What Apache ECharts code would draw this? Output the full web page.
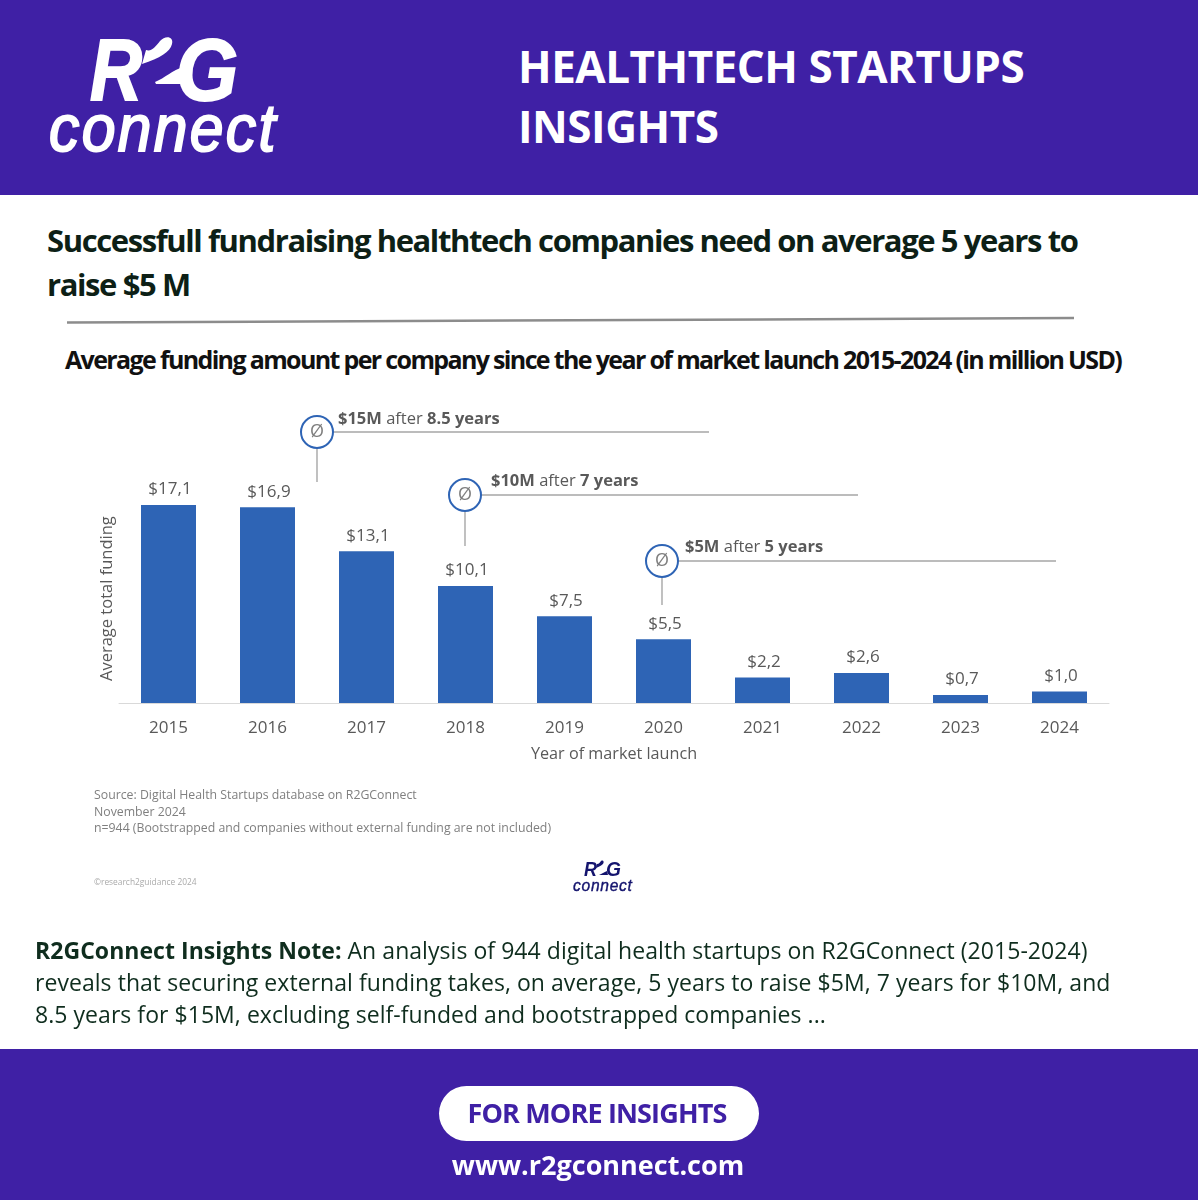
<!DOCTYPE html>
<html>
<head>
<meta charset="utf-8">
<script src="https://cdn.jsdelivr.net/npm/echarts@6/dist/echarts.min.js"></script>
<style>
  html, body { margin: 0; padding: 0; background: #fff; }
  #page { position: relative; width: 1198px; height: 1200px; overflow: hidden; font-family: "Open Sans", sans-serif; }
  #chart { position: absolute; left: 0; top: 0; width: 1198px; height: 1200px; }
  .band { position: absolute; left: 0; width: 1198px; background: #3f20a5; }
  .t { position: absolute; white-space: nowrap; }
  .logo { position: absolute; }
</style>
</head>
<body>
<div id="page">
  <div class="band" style="top:0;height:195px"></div>
  <div class="band" style="top:1049px;height:151px"></div>

  <svg class="logo" style="left:0;top:0" width="320" height="190">
    <text x="90" y="100" font-family="Liberation Sans" font-weight="bold" font-style="italic" font-size="87" fill="#fff" stroke="#fff" stroke-width="2" textLength="52" lengthAdjust="spacingAndGlyphs">R</text>
    <text x="176" y="100" font-family="Liberation Sans" font-weight="bold" font-style="italic" font-size="87" fill="#fff" stroke="#fff" stroke-width="2" textLength="62" lengthAdjust="spacingAndGlyphs">G</text>
    <path d="M146 50 C152 52 156 46 160 41 C165 35 174 36 172 44 C170 52 160 58 142 64Z" fill="#fff"/>
    <path d="M155 82 C165 78 172 70 184 67 L186 84 L156 84Z" fill="#fff"/>
    <g transform="translate(49 0) scale(0.92 1)">
      <text x="0" y="151" font-family="Liberation Sans" font-style="italic" font-size="66" fill="#fff" stroke="#fff" stroke-width="2" textLength="246" lengthAdjust="spacing">connect</text>
    </g>
  </svg>

  <div class="t" style="left:518px;top:36px;font-size:44px;line-height:60px;font-weight:700;color:#fff;letter-spacing:-0.5px">HEALTHTECH STARTUPS<br>INSIGHTS</div>
  <div class="t" style="left:47px;top:218px;font-size:31px;line-height:44px;font-weight:700;color:#0d1f16;letter-spacing:-1.4px">Successfull fundraising healthtech companies need on average 5 years to<br>raise $5 M</div>
  <svg class="logo" style="left:0;top:310px" width="1198" height="20"><line x1="67" y1="12.5" x2="1074" y2="8" stroke="#8c8c8c" stroke-width="2.5"/></svg>
  <div class="t" style="left:65px;top:342px;font-size:25px;line-height:34px;font-weight:700;color:#111;letter-spacing:-1.65px">Average funding amount per company since the year of market launch 2015-2024 (in million USD)</div>

  <div id="chart"></div>

  <div class="t" style="left:94px;top:787px;font-size:12.3px;line-height:16.5px;color:#7f7f7f">Source: Digital Health Startups database on R2GConnect<br>November 2024<br>n=944 (Bootstrapped and companies without external funding are not included)</div>
  <div class="t" style="left:94px;top:876px;font-size:8.4px;line-height:12px;color:#aaaaaa">©research2guidance 2024</div>
  <svg class="logo" style="left:560px;top:850px" width="90" height="50">
    <text x="24" y="26" font-family="Liberation Sans" font-weight="bold" font-style="italic" font-size="21" fill="#14146e" textLength="13" lengthAdjust="spacingAndGlyphs">R</text>
    <text x="46" y="26" font-family="Liberation Sans" font-weight="bold" font-style="italic" font-size="21" fill="#14146e" textLength="15" lengthAdjust="spacingAndGlyphs">G</text>
    <path d="M37 14 C39 14 40 12 41 11 C43 10 44 11 43.5 13 C43 15 40 16 36 18Z" fill="#14146e"/>
    <path d="M39 25 C42 24 44 22 47 21 L48 25 L39 25Z" fill="#14146e"/>
    <g transform="translate(13 0) scale(0.92 1)">
      <text x="0" y="41" font-family="Liberation Sans" font-style="italic" font-size="17" fill="#14146e" stroke="#14146e" stroke-width="0.4" textLength="64" lengthAdjust="spacing">connect</text>
    </g>
  </svg>

  <div class="t" style="left:35px;top:934px;font-size:23px;line-height:32px;color:#0f2d1e;letter-spacing:0.05px"><b>R2GConnect Insights Note:</b> An analysis of 944 digital health startups on R2GConnect (2015-2024)<br>reveals that securing external funding takes, on average, 5 years to raise $5M, 7 years for $10M, and<br>8.5 years for $15M, excluding self-funded and bootstrapped companies ...</div>

  <div style="position:absolute;left:439px;top:1086px;width:320px;height:55px;border-radius:28px;background:#fff"></div>
  <div class="t" style="left:437px;width:320px;top:1094px;text-align:center;font-size:27px;line-height:38px;font-weight:700;color:#3f20a5;letter-spacing:-0.85px">FOR MORE INSIGHTS</div>
  <div class="t" style="left:0;width:1196px;top:1146px;text-align:center;font-size:27px;line-height:38px;font-weight:700;color:#fff">www.r2gconnect.com</div>
</div>

<script>
var years = ['2015', '2016', '2017', '2018', '2019', '2020', '2021', '2022', '2023', '2024'];
var avgFunding = [17.1, 16.9, 13.1, 10.1, 7.5, 5.5, 2.2, 2.6, 0.7, 1.0];
var callouts = [
  { amount: '$15M', after: ' after ', time: '8.5 years', cx: 317, cy: 432, textDx: 21, textDy: -13, endX: 709, stemEnd: 482 },
  { amount: '$10M', after: ' after ', time: '7 years', cx: 465, cy: 495, textDx: 26, textDy: -14, endX: 858, stemEnd: 546 },
  { amount: '$5M', after: ' after ', time: '5 years', cx: 662, cy: 561, textDx: 23, textDy: -14, endX: 1056, stemEnd: 605 }
];

var textGrey = '#595959';
var lineGrey = '#a6a6a6';
var blue = '#2e64b5';

var elements = [];
callouts.forEach(function(c) {
  var r = 16;
  elements.push({ type: 'line', shape: { x1: c.cx + r, y1: c.cy, x2: c.endX, y2: c.cy }, style: { stroke: lineGrey, lineWidth: 1.4 } });
  elements.push({ type: 'line', shape: { x1: c.cx, y1: c.cy + r, x2: c.cx, y2: c.stemEnd }, style: { stroke: lineGrey, lineWidth: 1.4 } });
  elements.push({ type: 'circle', shape: { cx: c.cx, cy: c.cy, r: r }, style: { fill: '#fff', stroke: blue, lineWidth: 2 } });
  elements.push({
    type: 'text', x: c.cx, y: c.cy,
    style: { text: 'Ø', fill: '#7f7f7f', font: '18px "Open Sans"', align: 'center', verticalAlign: 'middle' }
  });
  elements.push({
    type: 'text', x: c.cx + c.textDx, y: c.cy + c.textDy,
    style: {
      text: '{b|' + c.amount + '}{n|' + c.after + '}{b|' + c.time + '}',
      verticalAlign: 'middle',
      rich: {
        b: { font: 'bold 16.5px "Open Sans"', fill: textGrey },
        n: { font: '16.5px "Open Sans"', fill: textGrey }
      }
    }
  });
});

var chart = echarts.init(document.getElementById('chart'), null, { renderer: 'canvas' });
chart.setOption({
  animation: false,
  backgroundColor: 'transparent',
  grid: { left: 119, top: 402, width: 990, height: 301 },
  xAxis: {
    type: 'category',
    data: years,
    name: 'Year of market launch',
    nameLocation: 'middle',
    nameGap: 43,
    nameTextStyle: { color: textGrey, fontFamily: 'Open Sans', fontSize: 16.2 },
    axisLine: { lineStyle: { color: '#d9d9d9', width: 1 } },
    axisTick: { show: false },
    axisLabel: { color: textGrey, fontFamily: 'Open Sans', fontSize: 17, margin: 17 }
  },
  yAxis: {
    type: 'value',
    min: 0,
    max: 26,
    name: 'Average total funding',
    nameLocation: 'start',
    nameGap: -22,
    nameRotate: 90,
    nameMoveOverlap: false,
    nameTextStyle: { color: textGrey, fontFamily: 'Open Sans', fontSize: 16.5, align: 'left', verticalAlign: 'bottom', padding: [0, 0, 3, 0] },
    axisLine: { show: false },
    axisTick: { show: false },
    axisLabel: { show: false },
    splitLine: { show: false }
  },
  series: [{
    type: 'bar',
    data: avgFunding,
    barWidth: 55,
    itemStyle: { color: blue },
    label: {
      show: true,
      position: 'top',
      distance: 7,
      offset: [1.5, 0],
      color: textGrey,
      fontFamily: 'Open Sans',
      fontSize: 17,
      formatter: function(p) {
        return '$' + p.value.toFixed(1).replace('.', ',');
      }
    }
  }],
  graphic: { elements: elements }
});
</script>
</body>
</html>
